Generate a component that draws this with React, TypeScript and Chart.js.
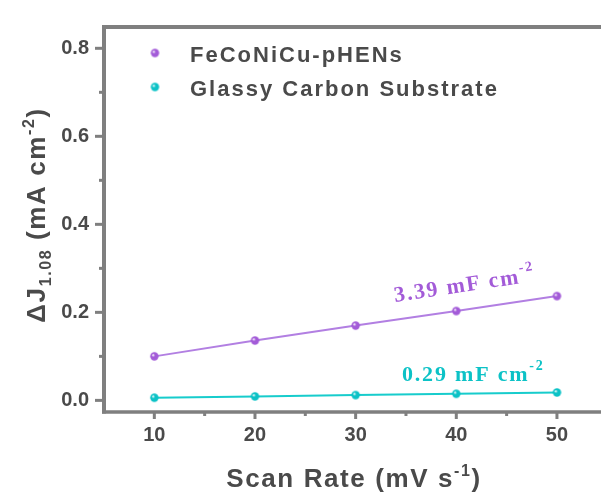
import { useEffect, useRef } from 'react';
import { Chart, registerables } from 'chart.js';

Chart.register(...registerables);

// Scan rate (mV s^-1) and double-layer current difference ΔJ at 1.08 V (mA cm^-2)
const scanRates = [10, 20, 30, 40, 50];
const pHENsDeltaJ = [0.1, 0.136, 0.17, 0.203, 0.237];
const glassyCarbonDeltaJ = [0.006, 0.009, 0.012, 0.015, 0.018];
const seriesNames = ['FeCoNiCu-pHENs', 'Glassy Carbon Substrate'];
const slopeTexts = ['3.39 mF cm', '0.29 mF cm'];
const xMajorTicks = [10, 20, 30, 40, 50];
const xMinorTicks = [15, 25, 35, 45];
const yMajorTicks = [0, 0.2, 0.4, 0.6, 0.8];
const yMinorTicks = [0.1, 0.3, 0.5, 0.7];

const PURPLE_LINE = '#b27fe2';
const PURPLE_DOT = '#a35bd8';
const CYAN_LINE = '#17cccc';
const CYAN_DOT = '#0cc2c6';
const AXIS = '#7f7f7f';
const TEXT = '#4a4a4a';
const SANS = '"Liberation Sans", Arial, sans-serif';
const SERIF = '"Liberation Serif", "Times New Roman", serif';

function makeSphere(color: string, r: number): HTMLCanvasElement {
  const size = Math.ceil(r * 2 + 2);
  const c = document.createElement('canvas');
  c.width = size;
  c.height = size;
  const g = c.getContext('2d')!;
  const cx = size / 2;
  const grad = g.createRadialGradient(cx - r * 0.35, cx - r * 0.35, 0.3, cx, cx, r);
  grad.addColorStop(0, '#ffffff');
  grad.addColorStop(0.35, color);
  grad.addColorStop(1, color);
  g.fillStyle = grad;
  g.beginPath();
  g.arc(cx, cx, r, 0, Math.PI * 2);
  g.fill();
  return c;
}

type Run = { text: string; font: string; dy: number };

function runsWidth(ctx: CanvasRenderingContext2D, runs: Run[], spacing: number) {
  let w = 0;
  for (const r of runs) {
    ctx.font = r.font;
    (ctx as any).letterSpacing = spacing + 'px';
    w += ctx.measureText(r.text).width;
  }
  return w;
}

function drawRuns(ctx: CanvasRenderingContext2D, runs: Run[], x: number, y: number, spacing: number) {
  let cx = x;
  ctx.textBaseline = 'alphabetic';
  ctx.textAlign = 'left';
  for (const r of runs) {
    ctx.font = r.font;
    (ctx as any).letterSpacing = spacing + 'px';
    ctx.fillText(r.text, cx, y + r.dy);
    cx += ctx.measureText(r.text).width;
  }
}

export default function App() {
  const canvasRef = useRef<HTMLCanvasElement | null>(null);

  useEffect(() => {
    const canvas = canvasRef.current;
    if (!canvas) return;

    const purpleDot = makeSphere(PURPLE_DOT, 4.2);
    const cyanDot = makeSphere(CYAN_DOT, 4.2);

    const decorations = {
      id: 'decorations',
      afterDatasetsDraw(chart: any) {
        const ctx: CanvasRenderingContext2D = chart.ctx;
        const xs = chart.scales.x;
        const ys = chart.scales.y;
        const area = chart.chartArea;
        const right = chart.width;
        ctx.save();

        // frame: left, top and bottom axis lines (the right side runs off the canvas)
        ctx.strokeStyle = AXIS;
        ctx.lineCap = 'butt';
        ctx.lineWidth = 4;
        ctx.beginPath();
        ctx.moveTo(area.left, area.top - 2);
        ctx.lineTo(area.left, area.bottom + 1.5);
        ctx.stroke();
        ctx.lineWidth = 4;
        ctx.beginPath();
        ctx.moveTo(area.left - 2, area.top);
        ctx.lineTo(right, area.top);
        ctx.stroke();
        ctx.lineWidth = 3.5;
        ctx.beginPath();
        ctx.moveTo(area.left - 2, area.bottom);
        ctx.lineTo(right, area.bottom);
        ctx.stroke();

        // tick marks
        ctx.lineWidth = 3;
        for (const v of yMajorTicks) {
          const py = ys.getPixelForValue(v);
          ctx.beginPath();
          ctx.moveTo(area.left - 9, py);
          ctx.lineTo(area.left, py);
          ctx.stroke();
        }
        for (const v of yMinorTicks) {
          const py = ys.getPixelForValue(v);
          ctx.beginPath();
          ctx.moveTo(area.left - 5, py);
          ctx.lineTo(area.left, py);
          ctx.stroke();
        }
        for (const v of xMajorTicks) {
          const px = xs.getPixelForValue(v);
          ctx.beginPath();
          ctx.moveTo(px, area.bottom);
          ctx.lineTo(px, area.bottom + 7);
          ctx.stroke();
        }
        for (const v of xMinorTicks) {
          const px = xs.getPixelForValue(v);
          ctx.beginPath();
          ctx.moveTo(px, area.bottom);
          ctx.lineTo(px, area.bottom + 4);
          ctx.stroke();
        }

        // legend
        ctx.drawImage(purpleDot, 155 - purpleDot.width / 2, 53 - purpleDot.height / 2);
        ctx.drawImage(cyanDot, 155 - cyanDot.width / 2, 87 - cyanDot.height / 2);
        ctx.fillStyle = TEXT;
        drawRuns(ctx, [{ text: seriesNames[0], font: `bold 22px ${SANS}`, dy: 0 }], 190, 61.5, 2);
        drawRuns(ctx, [{ text: seriesNames[1], font: `bold 22px ${SANS}`, dy: 0 }], 190, 95.5, 2);

        // slope annotations
        const serifMain = `bold 22px ${SERIF}`;
        const serifSup = `bold 14px ${SERIF}`;
        ctx.fillStyle = PURPLE_DOT;
        ctx.save();
        ctx.translate(395, 302);
        ctx.rotate(-8.5 * Math.PI / 180);
        drawRuns(ctx, [
          { text: slopeTexts[0], font: serifMain, dy: 0 },
          { text: '-2', font: serifSup, dy: -11 },
        ], 0, 0, 1.8);
        ctx.restore();
        ctx.fillStyle = CYAN_DOT;
        drawRuns(ctx, [
          { text: slopeTexts[1], font: serifMain, dy: 0 },
          { text: '-2', font: serifSup, dy: -11 },
        ], 402, 381, 1.8);

        // axis titles
        ctx.fillStyle = TEXT;
        const xTitle: Run[] = [
          { text: 'Scan Rate (mV s', font: `bold 26px ${SANS}`, dy: 0 },
          { text: '-1', font: `bold 16px ${SANS}`, dy: -11 },
          { text: ')', font: `bold 26px ${SANS}`, dy: 0 },
        ];
        const xw = runsWidth(ctx, xTitle, 1.6);
        drawRuns(ctx, xTitle, 354 - xw / 2, 487, 1.6);

        const yTitle: Run[] = [
          { text: '\u0394J', font: `bold 26px ${SANS}`, dy: 0 },
          { text: '1.08', font: `bold 16px ${SANS}`, dy: 6 },
          { text: ' (mA cm', font: `bold 26px ${SANS}`, dy: 0 },
          { text: '-2', font: `bold 16px ${SANS}`, dy: -11 },
          { text: ')', font: `bold 26px ${SANS}`, dy: 0 },
        ];
        const yw = runsWidth(ctx, yTitle, 1.6);
        ctx.save();
        ctx.translate(45, 215);
        ctx.rotate(-Math.PI / 2);
        drawRuns(ctx, yTitle, -yw / 2, 0, 1.6);
        ctx.restore();

        ctx.restore();
      },
    };

    const chart = new Chart(canvas, {
      type: 'line',
      data: {
        labels: scanRates,
        datasets: [
          {
            label: seriesNames[0],
            data: scanRates.map((x, i) => ({ x, y: pHENsDeltaJ[i] })),
            borderColor: PURPLE_LINE,
            borderWidth: 2,
            pointStyle: purpleDot as any,
            pointRadius: 4,
            tension: 0,
          },
          {
            label: seriesNames[1],
            data: scanRates.map((x, i) => ({ x, y: glassyCarbonDeltaJ[i] })),
            borderColor: CYAN_LINE,
            borderWidth: 2,
            pointStyle: cyanDot as any,
            pointRadius: 4,
            tension: 0,
          },
        ],
      },
      options: {
        animation: false,
        responsive: false,
        layout: { padding: { top: 14, left: 0, right: 0, bottom: 0 } },
        plugins: {
          legend: { display: false },
          tooltip: { enabled: false },
        },
        scales: {
          x: {
            type: 'linear',
            min: 5,
            max: 53.78,
            grid: { display: false, drawTicks: false },
            border: { display: false },
            afterBuildTicks: (s: any) => {
              s.ticks = xMajorTicks.map((value) => ({ value }));
            },
            afterFit: (s: any) => {
              s.height = 86;
            },
            ticks: {
              padding: 11,
              color: TEXT,
              font: { family: SANS, size: 20, weight: 'bold' },
              maxRotation: 0,
              autoSkip: false,
              callback: (v: any) => String(v),
            },
          },
          y: {
            type: 'linear',
            min: -0.0264,
            max: 0.8484,
            grid: { display: false, drawTicks: false },
            border: { display: false },
            afterBuildTicks: (s: any) => {
              s.ticks = yMajorTicks.map((value) => ({ value }));
            },
            afterFit: (s: any) => {
              s.width = 104;
            },
            ticks: {
              padding: 15,
              color: TEXT,
              font: { family: SANS, size: 20, weight: 'bold' },
              autoSkip: false,
              callback: (v: any) => Number(v).toFixed(1),
            },
          },
        },
      },
      plugins: [decorations],
    });

    return () => chart.destroy();
  }, []);

  return (
    <div style={{ position: 'fixed', left: 0, top: 0, width: 601, height: 498, background: '#fff' }}>
      <canvas ref={canvasRef} width={601} height={498} style={{ display: 'block' }} />
    </div>
  );
}
